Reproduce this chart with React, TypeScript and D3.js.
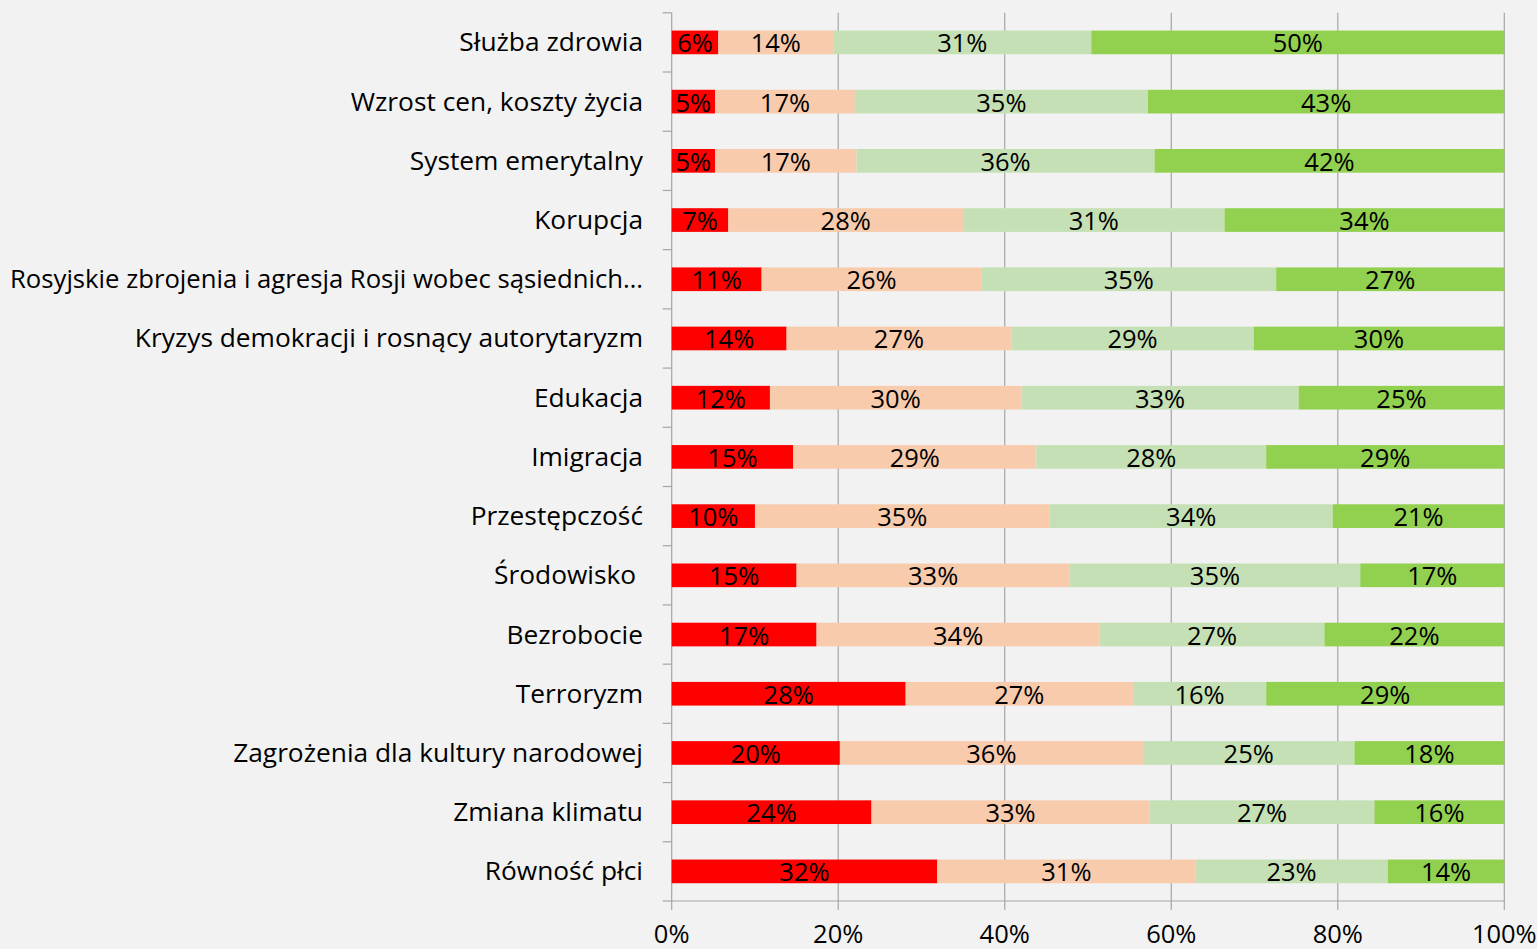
import React from "react";
import * as d3 from "d3";

const categories = [
  "Służba zdrowia",
  "Wzrost cen, koszty życia",
  "System emerytalny",
  "Korupcja",
  "Rosyjskie zbrojenia i agresja Rosji wobec sąsiednich…",
  "Kryzys demokracji i rosnący autorytaryzm",
  "Edukacja",
  "Imigracja",
  "Przestępczość",
  "Środowisko ",
  "Bezrobocie",
  "Terroryzm",
  "Zagrożenia dla kultury narodowej",
  "Zmiana klimatu",
  "Równość płci",
];

const seriesRed = [5.6, 5.2, 5.2, 6.8, 10.8, 13.8, 11.8, 14.6, 10.0, 15.0, 17.4, 28.1, 20.2, 24.0, 31.9];
const seriesPeach = [13.8, 16.8, 17.0, 28.2, 26.4, 27.0, 30.2, 29.2, 35.4, 32.8, 34.0, 27.3, 36.4, 33.4, 31.0];
const seriesLightGreen = [31.0, 35.2, 35.8, 31.4, 35.4, 29.1, 33.3, 27.6, 34.0, 34.9, 27.0, 16.0, 25.4, 27.0, 23.1];
const seriesGreen = [49.6, 42.8, 42.0, 33.6, 27.4, 30.1, 24.7, 28.6, 20.6, 17.3, 21.6, 28.6, 18.0, 15.6, 14.0];

const seriesList = [seriesRed, seriesPeach, seriesLightGreen, seriesGreen];
const seriesColors = ["#ff0000", "#f8cbad", "#c5e0b4", "#92d050"];
const xTicks = [0, 20, 40, 60, 80, 100];

const W = 1537;
const H = 949;
const M = { left: 671.7, right: 1504.3, top: 12.8, bottom: 901 };
const FONT = "'Open Sans', Lato, sans-serif";
const CAT_SIZE = 26.3;
const LABEL_X = 643;
const MAX_LABEL_W = LABEL_X - 10;

let measureCtx: CanvasRenderingContext2D | null = null;
function measure(text: string): number {
  if (!measureCtx) {
    const c = document.createElement("canvas");
    measureCtx = c.getContext("2d");
  }
  if (!measureCtx) return 0;
  measureCtx.font = `${CAT_SIZE}px 'Open Sans'`;
  return measureCtx.measureText(text).width;
}

export default function App() {
  const x = d3.scaleLinear().domain([0, 100]).range([M.left, M.right]);
  const y = d3
    .scaleBand<string>()
    .domain(categories)
    .range([M.top, M.bottom])
    .paddingInner(0.6)
    .paddingOuter(0.3);
  const bandTop = d3.scaleLinear().domain([0, categories.length]).range([M.top, M.bottom]);

  const rows = categories.map((c, i) => {
    let acc = 0;
    return seriesList.map((s, k) => {
      const v = s[i];
      const seg = { cat: c, k, x0: acc, x1: acc + v, v };
      acc += v;
      return seg;
    });
  });

  return (
    <svg
      width={W}
      height={H}
      style={{ position: "absolute", left: 0, top: 0, background: "#f2f2f2" }}
      fontFamily={FONT}
    >
      <rect x={0} y={0} width={W} height={H} fill="#f2f2f2" />
      {xTicks.slice(1).map((t) => (
        <line key={"g" + t} x1={x(t)} x2={x(t)} y1={M.top} y2={M.bottom} stroke="#a6a6a6" strokeWidth={1.2} />
      ))}
      <line x1={M.left} x2={M.left} y1={M.top} y2={M.bottom} stroke="#a6a6a6" strokeWidth={1.2} />
      <line x1={M.left} x2={M.right} y1={M.bottom} y2={M.bottom} stroke="#a6a6a6" strokeWidth={1.2} />
      {d3.range(categories.length + 1).map((i) => (
        <line key={"yt" + i} x1={M.left - 9} x2={M.left} y1={bandTop(i)} y2={bandTop(i)} stroke="#a6a6a6" strokeWidth={1.2} />
      ))}
      {xTicks.map((t) => (
        <line key={"xt" + t} x1={x(t)} x2={x(t)} y1={M.bottom} y2={M.bottom + 9} stroke="#a6a6a6" strokeWidth={1.2} />
      ))}
      {rows.map((segs) =>
        segs.map((s) => (
          <rect
            key={s.cat + s.k}
            x={x(s.x0)}
            width={x(s.x1) - x(s.x0)}
            y={y(s.cat)!}
            height={y.bandwidth()}
            fill={seriesColors[s.k]}
          />
        ))
      )}
      {rows.map((segs) =>
        segs.map((s) => (
          <text
            key={"l" + s.cat + s.k}
            x={(x(s.x0) + x(s.x1)) / 2}
            y={y(s.cat)! + y.bandwidth() / 2 + 10}
            textAnchor="middle"
            fontSize={25.5}
            fill="#000"
          >
            {Math.round(s.v) + "%"}
          </text>
        ))
      )}
      {categories.map((c) => {
        const w = measure(c);
        const tooWide = w > MAX_LABEL_W;
        return (
          <text
            key={"c" + c}
            x={LABEL_X}
            y={y(c)! + y.bandwidth() / 2 + 9}
            textAnchor="end"
            fontSize={CAT_SIZE}
            fill="#000"
            style={{ whiteSpace: "pre" }}
            {...(tooWide ? { textLength: MAX_LABEL_W, lengthAdjust: "spacingAndGlyphs" } : {})}
          >
            {c}
          </text>
        );
      })}
      {xTicks.map((t) => (
        <text key={"xl" + t} x={x(t)} y={943} textAnchor="middle" fontSize={25.5} fill="#000">
          {t + "%"}
        </text>
      ))}
    </svg>
  );
}
